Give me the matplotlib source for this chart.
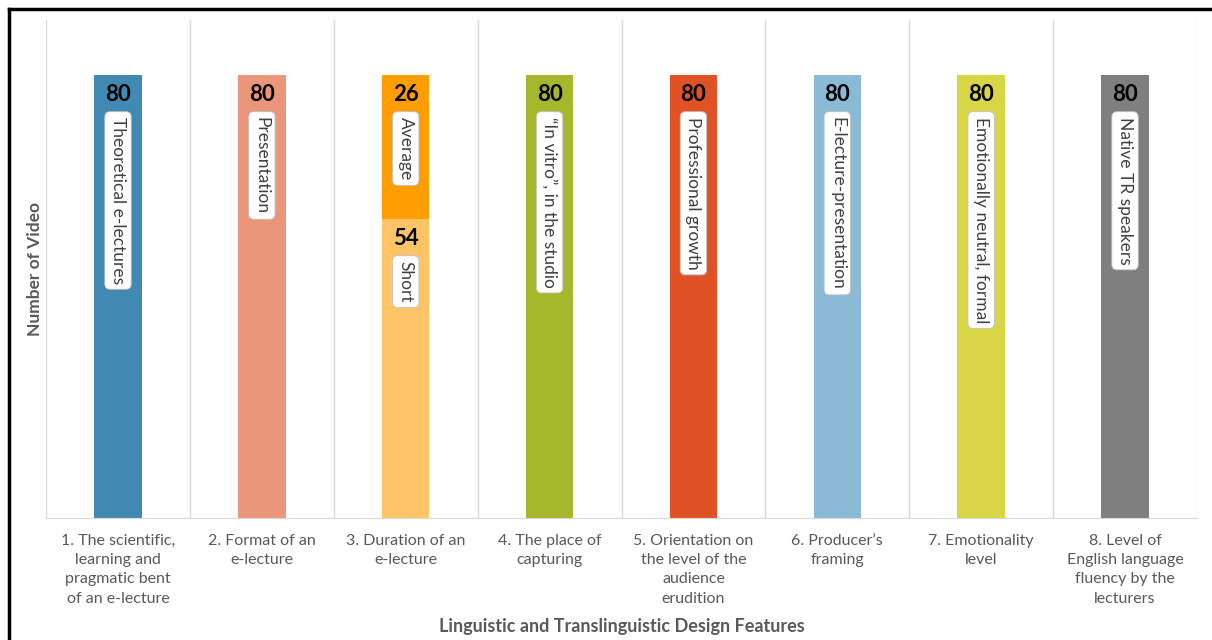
import matplotlib.pyplot as plt
from matplotlib.lines import Line2D

plt.rcParams['font.family'] = ['Lato', 'DejaVu Sans']

features = [
    '1. The scientific,\nlearning and\npragmatic bent\nof an e-lecture',
    '2. Format of an\ne-lecture',
    '3. Duration of an\ne-lecture',
    '4. The place of\ncapturing',
    '5. Orientation on\nthe level of the\naudience\nerudition',
    "6. Producer\u2019s\nframing",
    '7. Emotionality\nlevel',
    '8. Level of\nEnglish language\nfluency by the\nlecturers',
]
# bottom segment of each bar
base_values = [80, 80, 54, 80, 80, 80, 80, 80]
base_names = ['Theoretical e-lectures', 'Presentation', 'Short',
              '\u201cIn vitro\u201d, in the studio', 'Professional growth',
              'E-lecture-presentation', 'Emotionally neutral, formal',
              'Native TR speakers']
base_colors = ['#4189b3', '#ea967b', '#ffc466', '#a5b72a',
               '#e05226', '#8abad6', '#d8d546', '#7f7f7f']
# second segment (only duration has one)
top_values = [0, 0, 26, 0, 0, 0, 0, 0]
top_names = ['', '', 'Average', '', '', '', '', '']
top_colors = ['#ff9e00'] * 8

fig = plt.figure(figsize=(12.12, 6.4), dpi=100)
ax = fig.add_axes([0.038, 0.19, 0.9496, 0.779])

x = list(range(len(features)))
ax.bar(x, base_values, width=0.33, color=base_colors, zorder=2)
ax.bar(x, top_values, width=0.33, bottom=base_values, color=top_colors, zorder=2)


def label_segment(xi, top, value, name):
    ax.annotate(str(value), xy=(xi, top), xytext=(0, -6), textcoords='offset points',
                ha='center', va='top', fontsize=16, fontweight='bold', color='black', zorder=3)
    ax.annotate(name, xy=(xi, top), xytext=(0, -30), textcoords='offset points',
                ha='center', va='top', rotation=-90, fontsize=12.5, color='#404040', zorder=3,
                bbox=dict(boxstyle='round,pad=0.3,rounding_size=0.3', fc='white',
                          ec='#bfbfbf', lw=0.6))


for i in x:
    label_segment(i, base_values[i], base_values[i], base_names[i])
    if top_values[i]:
        label_segment(i, base_values[i] + top_values[i], top_values[i], top_names[i])

ax.set_xlim(-0.5, len(features) - 0.5)
ax.set_ylim(0, 90)
ax.set_yticks([])
ax.set_xticks(x)
ax.set_xticklabels(features, fontsize=11.5, color='#595959', linespacing=1.49)
ax.tick_params(axis='x', length=0, pad=11)
for b in range(len(features) + 1):
    ax.axvline(b - 0.5, color='#d9d9d9', lw=1, zorder=1)
for s in ['top', 'right', 'left']:
    ax.spines[s].set_visible(False)
ax.spines['bottom'].set_color('#d9d9d9')

ax.set_ylabel('Number of Video', fontsize=12.5, fontweight='bold', color='#595959', labelpad=2)
ax.set_xlabel('Linguistic and Translinguistic Design Features', fontsize=13,
              fontweight='bold', color='#595959')
ax.xaxis.set_label_coords(0.5, -0.2)

# black frame (left and top edges visible in the original)
fig.add_artist(Line2D([0.0075, 0.0075], [0, 0.986], color='black', lw=2.5))
fig.add_artist(Line2D([0.0075, 1], [0.986, 0.986], color='black', lw=2.5))

fig.savefig('out.png', dpi=100)
